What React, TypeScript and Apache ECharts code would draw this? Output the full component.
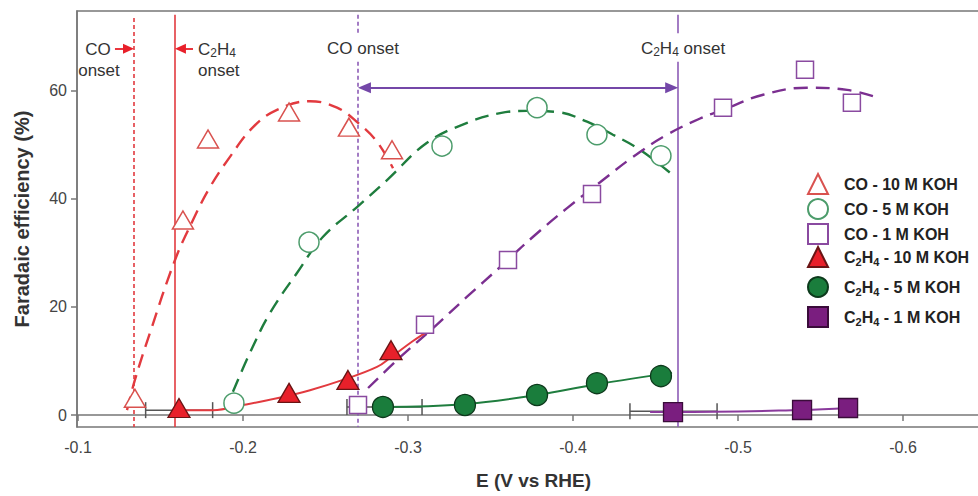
import React, { useEffect, useRef } from 'react';
import * as echarts from 'echarts';

// ---- axis ticks ----
const X_TICKS = [-0.1, -0.2, -0.3, -0.4, -0.5, -0.6];
const Y_TICKS = [0, 20, 40, 60];

// ---- measured points ----
const E_CO_10M = [-0.1345, -0.1636, -0.1788, -0.2279, -0.2642, -0.2903];
const FE_CO_10M = [3.1, 36.1, 51.1, 56.1, 53.3, 49.1];
const E_CO_5M = [-0.1945, -0.24, -0.3206, -0.3782, -0.4145, -0.4533];
const FE_CO_5M = [2.2, 32.0, 49.8, 56.9, 51.9, 48.0];
const E_CO_1M = [-0.2697, -0.3103, -0.3606, -0.4115, -0.4909, -0.5406, -0.569];
const FE_CO_1M = [1.85, 16.7, 28.7, 40.9, 56.9, 63.9, 57.8];
const E_C2H4_10M = [-0.1612, -0.2279, -0.2636, -0.2897];
const FE_C2H4_10M = [1.3, 4.1, 6.5, 12.0];
const E_C2H4_5M = [-0.2848, -0.3345, -0.3782, -0.4145, -0.4533];
const FE_C2H4_5M = [1.5, 1.85, 3.7, 5.9, 7.2];
const E_C2H4_1M = [-0.4606, -0.5388, -0.5667];
const FE_C2H4_1M = [0.55, 0.93, 1.3];

// ---- fitted trend curves ----
const FIT_E_CO_10M = [-0.1297, -0.1345, -0.1436, -0.1588, -0.1697, -0.18, -0.1921, -0.2061, -0.2206, -0.2406, -0.257, -0.2697, -0.2812, -0.2909];
const FIT_FE_CO_10M = [0.9, 6.5, 15.2, 28.7, 36.1, 42.2, 47.8, 53.3, 56.5, 58.1, 56.9, 54.1, 50.6, 45.7];
const FIT_E_CO_5M = [-0.1939, -0.2042, -0.2164, -0.2327, -0.2485, -0.2691, -0.2873, -0.3115, -0.3358, -0.3558, -0.3721, -0.3903, -0.4085, -0.4242, -0.4406, -0.4606];
const FIT_FE_CO_5M = [4.3, 11.5, 18.9, 26.3, 33.0, 38.5, 43.5, 50.4, 54.1, 55.9, 56.3, 56.1, 54.3, 51.9, 49.1, 44.4];
const FIT_E_CO_1M = [-0.2758, -0.2952, -0.3152, -0.3358, -0.3558, -0.3758, -0.3964, -0.4164, -0.4364, -0.457, -0.477, -0.4909, -0.5152, -0.5418, -0.5661, -0.583];
const FIT_FE_CO_1M = [5.0, 10.7, 16.1, 21.9, 27.4, 33.0, 38.3, 43.1, 47.8, 51.9, 54.9, 56.5, 59.3, 60.6, 60.2, 58.9];
const FIT_E_C2H4_10M = [-0.1612, -0.1818, -0.2, -0.2206, -0.2406, -0.2606, -0.2812, -0.2897, -0.3030, -0.3115];
const FIT_FE_C2H4_10M = [0.9, 0.9, 1.85, 3.1, 4.6, 6.5, 8.9, 10.7, 13.7, 15.4];
const FIT_E_C2H4_5M = [-0.2848, -0.3345, -0.3782, -0.4145, -0.46];
const FIT_FE_C2H4_5M = [1.5, 2.0, 3.7, 5.7, 7.8];
const FIT_E_C2H4_1M = [-0.4467, -0.4606, -0.5388, -0.5667];
const FIT_FE_C2H4_1M = [0.55, 0.55, 0.93, 1.3];

// ---- onset potential error bars: [low E, high E, FE] ----
const ERR_LO = [-0.141, -0.263, -0.4345];
const ERR_HI = [-0.1816, -0.3085, -0.4873];
const ERR_Y = [0.9, 1.5, 0.7];

// ---- onset potentials ----
const CO_ONSET_10M = -0.1339;
const C2H4_ONSET_10M = -0.1588;
const CO_ONSET_1M = -0.2697;
const C2H4_ONSET_1M = -0.4636;

const NAMES = ['CO - 10 M KOH', 'CO - 5 M KOH', 'CO - 1 M KOH', 'C2H4 - 10 M KOH', 'C2H4 - 5 M KOH', 'C2H4 - 1 M KOH'];

const FONT = 'Liberation Sans, Arial, Helvetica, sans-serif';

const zip = (xs: number[], ys: number[]) => xs.map((x, i) => [x, ys[i]]);

const RED = '#e23a3f';
const GREEN = '#1f7d3e';
const PURPLE = '#7b2f90';
const LAVENDER = '#8d5cb6';

function buildOption() {
  const Y_TOP = 74.1;
  const Y_BOT = -2.22;
  const vLine = (x: number, y1: number, y2: number, color: string, type: any) => [
    { coord: [x, y1], symbol: 'none', lineStyle: { color, width: 1.6, type } },
    { coord: [x, y2], symbol: 'none' },
  ];
  const arrow = (x1: number, x2: number, y: number, color: string, both: boolean, size: number[]) => [
    { coord: [x1, y], symbol: both ? 'triangle' : 'none', symbolSize: size, lineStyle: { color, width: 1.8, type: 'solid' } },
    { coord: [x2, y], symbol: 'triangle', symbolSize: size },
  ];

  const markLineData: any[] = [
    vLine(CO_ONSET_10M, Y_TOP - 0.6, Y_BOT, RED, [4, 3]),
    vLine(C2H4_ONSET_10M, Y_TOP, Y_BOT, RED, 'solid'),
    vLine(CO_ONSET_1M, Y_TOP, 70.7, LAVENDER, [4, 3]),
    vLine(CO_ONSET_1M, 65.4, Y_BOT, LAVENDER, [4, 3]),
    vLine(C2H4_ONSET_1M, Y_TOP, 70.7, LAVENDER, 'solid'),
    vLine(C2H4_ONSET_1M, 65.4, Y_BOT, LAVENDER, 'solid'),
    arrow(-0.2736, -0.4598, 60.6, '#7447a8', true, [11, 13]),
    arrow(-0.1224, -0.1306, 67.8, '#e8202a', false, [10, 11]),
    arrow(-0.1697, -0.1621, 67.8, '#e8202a', false, [10, 11]),
  ];

  const openStyle = (c: string) => ({ color: '#fff', borderColor: c, borderWidth: 1.5, opacity: 1 });
  const filledStyle = (c: string, b: string) => ({ color: c, borderColor: b, borderWidth: 1.3, opacity: 1 });

  const scatter = (name: string, data: number[][], symbol: string, size: any, itemStyle: any) => ({
    name,
    type: 'scatter',
    data,
    symbol,
    symbolSize: size,
    itemStyle,
    z: 4,
  });

  const curve = (name: string, data: number[][], color: string, dashed: boolean, extra: any = {}) => ({
    name,
    type: 'line',
    data,
    smooth: 0.4,
    showSymbol: false,
    symbol: 'none',
    lineStyle: { color, width: dashed ? 2.4 : 2, type: dashed ? [14, 8] : 'solid' },
    z: 3,
    silent: true,
    ...extra,
  });

  const rich = {
    f: { fontSize: 16, fontWeight: 'bold', color: '#222', fontFamily: FONT, lineHeight: 20, verticalAlign: 'middle', padding: [0, 0, 0, 11] },
    b: { fontSize: 16, fontWeight: 'bold', color: '#222', fontFamily: FONT, lineHeight: 20, verticalAlign: 'middle' },
    s: { fontSize: 11, fontWeight: 'bold', color: '#222', fontFamily: FONT, lineHeight: 12, verticalAlign: 'bottom' },
  };
  const legendFormatter = (name: string) =>
    name.startsWith('C2H4') ? `{f|C}{s|2}{b|H}{s|4}{b|${name.slice(4)}}` : `{f|${name}}`;

  const legendBase = {
    orient: 'vertical',
    left: 807,
    padding: 0,
    itemWidth: 20,
    itemHeight: 20,
    symbolKeepAspect: true,
    formatter: legendFormatter,
    textStyle: { rich, fontSize: 16, fontWeight: 'bold', color: '#222', fontFamily: FONT },
    selectedMode: false,
  };

  const annoRich = {
    n: { fontSize: 17, color: '#333', fontFamily: FONT, lineHeight: 20, verticalAlign: 'middle' },
    s: { fontSize: 12, color: '#333', fontFamily: FONT, lineHeight: 12, verticalAlign: 'bottom' },
  };
  const annoText = (text: string, x: number, y: number, align: string) => ({
    type: 'text',
    x,
    y,
    z: 10,
    style: { text, rich: annoRich, align, verticalAlign: 'middle', fill: '#333', fontSize: 17, fontFamily: FONT },
    silent: true,
  });

  return {
    animation: false,
    backgroundColor: '#fff',
    textStyle: { fontFamily: FONT },
    grid: {
      left: 77,
      right: -12,
      top: 11,
      bottom: 69,
      show: true,
      borderColor: '#777',
      borderWidth: 1.5,
      containLabel: false,
      outerBoundsMode: 'none',
    },
    xAxis: {
      type: 'value',
      inverse: true,
      min: -0.6527,
      max: -0.0994,
      name: 'E (V vs RHE)',
      nameLocation: 'middle',
      nameGap: 44,
      nameTextStyle: { fontSize: 19, fontWeight: 'bold', color: '#333', fontFamily: FONT },
      splitLine: { show: false },
      axisLine: { show: true, lineStyle: { color: '#777', width: 1.5 } },
      axisTick: { show: true, length: 6, customValues: X_TICKS, lineStyle: { color: '#777', width: 1.5 } },
      axisLabel: {
        customValues: X_TICKS,
        formatter: (v: number) => v.toFixed(1),
        fontSize: 16,
        color: '#444',
        margin: 12,
        fontFamily: FONT,
      },
    },
    yAxis: {
      type: 'value',
      min: -2.22,
      max: 74.8,
      name: 'Faradaic efficiency (%)',
      nameLocation: 'middle',
      nameGap: 45,
      nameTextStyle: { fontSize: 20, fontWeight: 'bold', color: '#333', fontFamily: FONT },
      splitLine: { show: false },
      axisLine: { show: true, lineStyle: { color: '#777', width: 1.5 } },
      axisTick: { show: true, length: 6, customValues: Y_TICKS, lineStyle: { color: '#777', width: 1.5 } },
      axisLabel: { customValues: Y_TICKS, fontSize: 16, color: '#444', margin: 10, fontFamily: FONT },
    },
    legend: [
      { ...legendBase, top: 173, itemGap: 3, data: NAMES.slice(0, 3) },
      { ...legendBase, top: 246, itemGap: 8, data: NAMES.slice(3) },
    ],
    graphic: [
      annoText('CO', 98, 49, 'center'),
      annoText('onset', 99, 70, 'center'),
      annoText('{n|C}{s|2}{n|H}{s|4}', 198, 49, 'left'),
      annoText('onset', 198, 70, 'left'),
      annoText('CO onset', 363, 48, 'center'),
      annoText('{n|C}{s|2}{n|H}{s|4}{n| onset}', 683, 48, 'center'),
    ],
    series: [
      {
        name: 'errorbars',
        type: 'custom',
        data: ERR_LO.map((lo, i) => [lo, ERR_HI[i], ERR_Y[i]]),
        encode: { x: [0, 1], y: 2 },
        z: 2,
        silent: true,
        renderItem: (params: any, api: any) => {
          const a = api.coord([api.value(0), api.value(2)]);
          const b = api.coord([api.value(1), api.value(2)]);
          const style = { stroke: '#555', lineWidth: 1.5 };
          return {
            type: 'group',
            children: [
              { type: 'line', shape: { x1: a[0], y1: a[1], x2: b[0], y2: b[1] }, style },
              { type: 'line', shape: { x1: a[0], y1: a[1] - 8, x2: a[0], y2: a[1] + 8 }, style },
              { type: 'line', shape: { x1: b[0], y1: b[1] - 8, x2: b[0], y2: b[1] + 8 }, style },
            ],
          };
        },
      },
      curve('fit CO 10M', zip(FIT_E_CO_10M, FIT_FE_CO_10M), RED, true, {
        markLine: { silent: true, symbol: 'none', label: { show: false }, data: markLineData, z: 1 },
      }),
      curve('fit CO 5M', zip(FIT_E_CO_5M, FIT_FE_CO_5M), GREEN, true),
      curve('fit CO 1M', zip(FIT_E_CO_1M, FIT_FE_CO_1M), PURPLE, true),
      curve('fit C2H4 10M', zip(FIT_E_C2H4_10M, FIT_FE_C2H4_10M), RED, false),
      curve('fit C2H4 5M', zip(FIT_E_C2H4_5M, FIT_FE_C2H4_5M), GREEN, false),
      curve('fit C2H4 1M', zip(FIT_E_C2H4_1M, FIT_FE_C2H4_1M), '#8a3a9c', false),
      scatter(NAMES[0], zip(E_CO_10M, FE_CO_10M), 'triangle', [21, 18], openStyle('#d9524f')),
      scatter(NAMES[1], zip(E_CO_5M, FE_CO_5M), 'circle', 20, openStyle('#4c9c6b')),
      scatter(NAMES[2], zip(E_CO_1M, FE_CO_1M), 'rect', 17, openStyle('#8a4aa0')),
      scatter(NAMES[3], zip(E_C2H4_10M, FE_C2H4_10M), 'triangle', [22, 19], filledStyle('#e8202a', '#6a1414')),
      scatter(NAMES[4], zip(E_C2H4_5M, FE_C2H4_5M), 'circle', 21, filledStyle('#1a7d3c', '#0d3a1c')),
      scatter(NAMES[5], zip(E_C2H4_1M, FE_C2H4_1M), 'rect', 19, filledStyle('#7a1e7f', '#3a0c3a')),
    ],
  };
}

export default function App() {
  const ref = useRef<HTMLDivElement>(null);
  useEffect(() => {
    if (!ref.current) return;
    const chart = echarts.init(ref.current, null, { renderer: 'svg' });
    chart.setOption(buildOption() as any);
    return () => chart.dispose();
  }, []);
  return (
    <div
      ref={ref}
      style={{ position: 'fixed', left: 0, top: 0, width: 978, height: 496, background: '#fff' }}
    />
  );
}
